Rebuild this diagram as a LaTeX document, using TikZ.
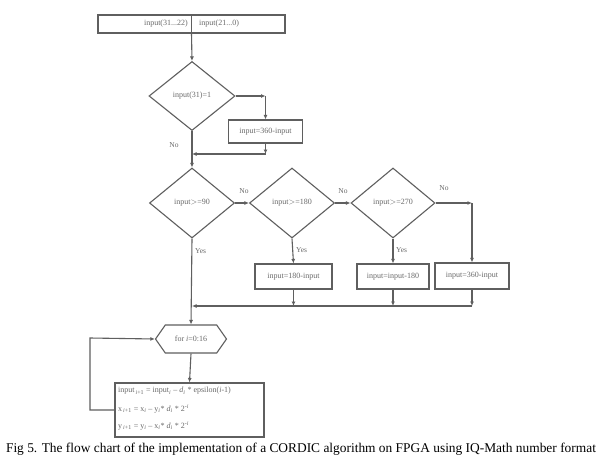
\documentclass[tikz,border=0pt]{standalone}
\usepackage{fontspec}
\setmainfont{Liberation Serif}
\usetikzlibrary{shapes.geometric,shapes.symbols,arrows.meta}
\definecolor{lc}{RGB}{95,95,95}
\definecolor{tc}{RGB}{105,105,105}
\begin{document}
\begin{tikzpicture}[x=1pt,y=-1pt,
  ln/.style={draw=lc, line width=1.1pt},
  arr/.style={ln, -{Latex[length=4.5pt,width=4pt]}},
  txt/.style={font=\fontsize{8}{9}\selectfont, text=tc, inner sep=0pt},
  lbl/.style={font=\fontsize{7.5}{8}\selectfont, text=tc, inner sep=0pt},
  dia/.style={ln, diamond, minimum width=86pt, minimum height=69pt, inner sep=0pt, txt},
  bx/.style={ln, rectangle, minimum height=24pt, inner sep=0pt, txt},
]
\useasboundingbox[fill=white] (0,0) rectangle (600,461);

% top box
\node[ln, rectangle, minimum width=187pt, minimum height=18pt, inner sep=0pt] (top) at (191.5,24) {};
\draw[ln] (top.north) -- (top.south);
\node[txt, anchor=east] (t1) at (188,24) {input(31...22)};
\node[txt, anchor=west] (t2) at (199,24) {input(21...0)};

% first decision
\node[dia] (d1) at (192,96) {input(31)=1};
\node[bx, minimum width=74pt, minimum height=23pt] (b1) at (265.5,131.5) {input=360-input};
\coordinate (c1) at (265.5,96);
\coordinate (c2) at (265.5,154);
\coordinate (j1) at (192,154);
\draw[arr] (top.south) -- (d1.north);
\draw[arr] (d1.east) -- (c1);
\draw[arr] (c1) -- (b1.north);
\draw[arr] (b1.south) -- (c2);
\draw[arr] (c2) -- (j1);
\draw[ln] (d1.south) -- (j1);
\node[lbl] (no1) at (174,145) {No};

% decision row
\node[dia, minimum width=85pt, minimum height=70pt] (d2) at (192,203) {input$>$=90};
\node[dia, minimum width=85pt, minimum height=70pt] (d3) at (292,203) {input$>$=180};
\node[dia, minimum width=84pt, minimum height=70pt] (d4) at (393,203) {input$>$=270};
\draw[arr] (j1) -- (d2.north);
\draw[arr] (d2.east) -- (d3.west);
\draw[arr] (d3.east) -- (d4.west);
\coordinate (c3) at (472,203);
\draw[arr] (d4.east) -- (c3);
\node[lbl] (no2) at (244,191) {No};
\node[lbl] (no3) at (343,191) {No};
\node[lbl] (no4) at (444,188) {No};

% boxes
\node[bx, minimum width=77pt, minimum height=25pt] (b2) at (293.5,276.5) {input=180-input};
\node[bx, minimum width=72pt, minimum height=25pt] (b3) at (393,276.5) {input=input-180};
\node[bx, minimum width=74pt, minimum height=26pt] (b4) at (472,276) {input=360-input};
\draw[arr] (d3.south) -- (b2.north);
\draw[arr] (d4.south) -- (b3.north);
\draw[arr] (c3) -- (b4.north);
\node[lbl, anchor=west] (y3) at (296,250) {Yes};
\node[lbl, anchor=west] (y4) at (396,250) {Yes};
\node[lbl, anchor=west] (y2) at (195,251) {Yes};

% merge
\coordinate (m1) at (192,306);
\coordinate (m2) at (293.5,306);
\coordinate (m3) at (393,306);
\coordinate (m4) at (472,306);
\draw[arr] (b2.south) -- (m2);
\draw[arr] (b3.south) -- (m3);
\draw[arr] (b4.south) -- (m4);
\draw[arr] (m4) -- (m1);

% loop
\node[ln, signal, signal to=west and east, signal pointer angle=110, minimum width=71pt, minimum height=28pt, inner sep=0pt, txt] (hex) at (191,339) {for \textit{i}=0:16};
\draw[arr] (d2.south) -- (hex.north);
\node[ln, rectangle, minimum width=149pt, minimum height=54pt, inner sep=0pt] (b5) at (189.5,410) {};
\draw[arr] (hex.south) -- (b5.north);
\node[txt, anchor=west] (e1) at (118,391) {input\textsubscript{\,\textit{i}+1} = input\textsubscript{\textit{i}} -- \textit{d}\textsubscript{\textit{i}} * epsilon(\textit{i}-1)};
\node[txt, anchor=west] (e2) at (118,409) {x\textsubscript{\,\textit{i}+1} = x\textsubscript{\textit{i}} -- y\textsubscript{\textit{i}}* \textit{d}\textsubscript{\textit{i}} * 2\textsuperscript{\textit{-i}}};
\node[txt, anchor=west] (e3) at (118,426) {y\textsubscript{\,\textit{i}+1} = y\textsubscript{\textit{i}} -- x\textsubscript{\textit{i}}* \textit{d}\textsubscript{\textit{i}} * 2\textsuperscript{\textit{-i}}};
\coordinate (L1) at (90,410);
\coordinate (L2) at (90,338);
\draw[arr] (b5.west) -- (L1) -- (L2) -- (hex.west);

% caption
\node[font=\fontsize{13.4}{15}\selectfont, inner sep=0pt] (cap) at (301,449) {Fig 5. The flow chart of the implementation of a CORDIC algorithm on FPGA using IQ-Math number format};
\end{tikzpicture}
\end{document}
